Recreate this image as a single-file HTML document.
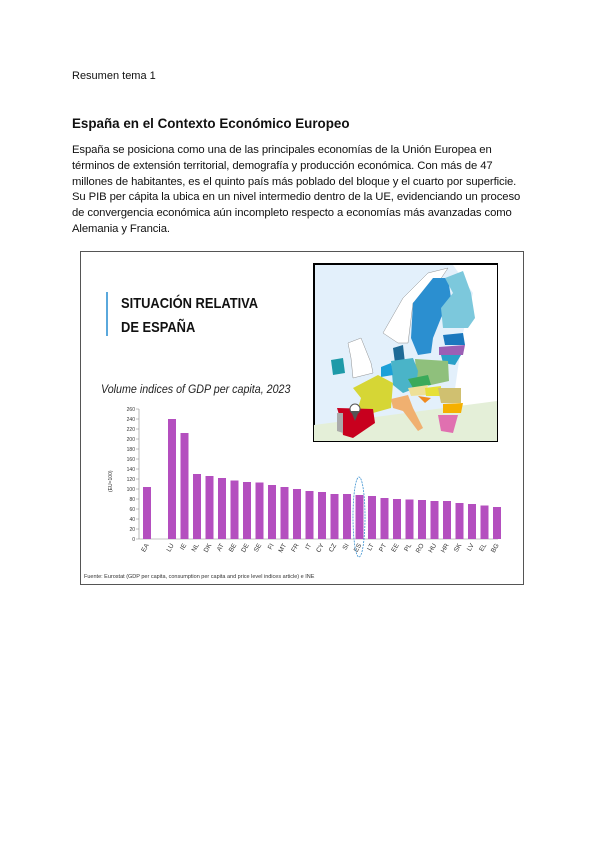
<!DOCTYPE html>
<html><head><meta charset="utf-8"><style>
body{margin:0;background:#fff;width:600px;height:848px;position:relative;overflow:hidden;font-family:"Liberation Sans",Arial,sans-serif;color:#111}
.t{position:absolute;white-space:nowrap}
.p{position:absolute;left:72px;top:143px;font-size:11.3px;line-height:15.8px;letter-spacing:-0.1px}
</style></head><body>
<div class="t" style="left:72px;top:70px;font-size:11px">Resumen tema 1</div>
<div class="t" style="left:72px;top:116px;font-size:13.4px;font-weight:bold">España en el Contexto Económico Europeo</div>
<div class="p">España se posiciona como una de las principales economías de la Unión Europea en<br>términos de extensión territorial, demografía y producción económica. Con más de 47<br>millones de habitantes, es el quinto país más poblado del bloque y el cuarto por superficie.<br>Su PIB per cápita la ubica en un nivel intermedio dentro de la UE, evidenciando un proceso<br>de convergencia económica aún incompleto respecto a economías más avanzadas como<br>Alemania y Francia.</div>

<div style="position:absolute;left:80px;top:251px;width:442px;height:332px;border:1.5px solid #555;background:#fff"></div>
<div style="position:absolute;left:106px;top:292px;width:2px;height:44px;background:#5aa8dc"></div>
<div class="t" style="left:121px;top:292px;font-size:15px;font-weight:bold;line-height:24px;transform:scaleX(0.86);transform-origin:0 0">SITUACIÓN RELATIVA<br>DE ESPAÑA</div>
<div class="t" style="left:101px;top:384px;font-size:11.5px;font-style:italic;color:#222;transform:scaleX(0.93);transform-origin:0 0">Volume indices of GDP per capita, 2023</div>

<svg style="position:absolute;left:313px;top:263px" width="185" height="179" viewBox="0 0 185 179">
<rect x="1" y="1" width="183" height="177" fill="#e3f0fb" stroke="#000" stroke-width="2"/>
<polygon points="140,2 184,2 184,150 140,140 150,70 160,30" fill="#fff"/>
<polygon points="1,162 184,138 184,178 1,178" fill="#e4efd8"/>
<polygon points="70,70 90,35 115,10 135,5 125,20 100,40 95,80 85,80" fill="#fff" stroke="#777" stroke-width=".4"/>
<polygon points="100,40 120,15 135,15 138,35 128,55 120,75 118,90 105,92 98,75" fill="#2b8fd0"/>
<polygon points="132,15 150,8 158,30 162,55 155,65 130,65 128,45 140,30" fill="#7cc8dc"/>
<polygon points="130,72 150,70 152,82 132,82" fill="#1a78be"/>
<polygon points="126,84 152,82 150,92 126,92" fill="#9b5fb5"/>
<polygon points="128,92 148,92 142,102 130,100" fill="#2aa0c8"/>
<polygon points="80,85 90,82 92,100 82,100" fill="#1e6a96"/>
<polygon points="18,97 30,95 32,110 20,112" fill="#1e9aa8"/>
<polygon points="35,80 48,75 58,100 60,110 40,115 38,95" fill="#fff" stroke="#777" stroke-width=".4"/>
<polygon points="102,96 135,98 136,118 118,122 104,118" fill="#8fc07c"/>
<polygon points="78,98 100,95 105,108 103,125 90,130 80,122" fill="#4ab4c8"/>
<polygon points="68,104 78,100 80,112 68,114" fill="#1ca0d8"/>
<polygon points="95,116 115,112 118,122 100,125" fill="#3aaa5a"/>
<polygon points="40,125 65,112 80,120 78,145 60,150 45,145 48,135" fill="#d6d635"/>
<polygon points="95,125 115,122 113,132 98,133" fill="#eee098"/>
<polygon points="112,125 128,123 128,133 113,133" fill="#e6e038"/>
<polygon points="125,125 148,125 148,140 128,140" fill="#d0c070"/>
<polygon points="130,141 150,140 148,150 130,150" fill="#f5b000"/>
<polygon points="105,133 118,135 112,140" fill="#f08a20"/>
<polygon points="78,136 95,132 100,145 110,165 105,168 90,148 80,145" fill="#f0b070"/>
<polygon points="125,152 145,152 140,170 128,168" fill="#e070b0"/>
<polygon points="24,145 60,146 62,160 40,175 30,172 28,158" fill="#c8001e"/>
<polygon points="24,150 30,150 30,170 24,168" fill="#aaa"/>
<circle cx="42" cy="146" r="5" fill="#fff" stroke="#555"/><polygon points="38,148 46,148 42,158" fill="#555"/>
</svg>

<svg style="position:absolute;left:100px;top:400px" width="420" height="170" font-family="Liberation Sans,Arial,sans-serif">
<g font-size="5" fill="#333" text-anchor="end" id="ax"></g>
<line x1="39" y1="9" x2="39" y2="139" stroke="#888" stroke-width=".6"/>
<line x1="39" y1="139" x2="398" y2="139" stroke="#888" stroke-width=".6"/>
<text x="0" y="0" font-size="5" fill="#333" transform="translate(12,92) rotate(-90)">(EU=100)</text>
<g id="bars" fill="#b44fbf"></g>
<g id="lb" font-size="6.5" fill="#333"></g>
<ellipse cx="259" cy="117" rx="6" ry="40" fill="none" stroke="#3a90d0" stroke-width=".8" stroke-dasharray="2,1"/>
</svg>
<div class="t" style="left:84px;top:574px;font-size:5.5px;color:#333">Fuente: Eurostat (GDP per capita, consumption per capita and price level indices article) e INE</div>
<script>
var ax=document.getElementById('ax'),s='';
for(var v=0;v<=260;v+=20){var y=139-v*0.5;s+='<text x="35" y="'+(y+1.8)+'">'+v+'</text><line x1="36" y1="'+y+'" x2="39" y2="'+y+'" stroke="#888" stroke-width=".5"/>';}
ax.innerHTML=s;
var d=[["EA",104],["LU",240],["IE",212],["NL",130],["DK",126],["AT",122],["BE",117],["DE",114],["SE",113],["FI",108],["MT",104],["FR",100],["IT",96],["CY",94],["CZ",90],["SI",90],["ES",88],["LT",86],["PT",82],["EE",80],["PL",79],["RO",78],["HU",76],["HR",76],["SK",72],["LV",70],["EL",67],["BG",64]];
var b='',l='';
d.forEach(function(e,i){var x=i==0?43:68+(i-1)*12.5;var h=e[1]*0.5;b+='<rect x="'+x+'" y="'+(139-h)+'" width="8" height="'+h+'"/>';l+='<text transform="translate('+(x+6)+',145) rotate(-60)" text-anchor="end">'+e[0]+'</text>';});
document.getElementById('bars').innerHTML=b;document.getElementById('lb').innerHTML=l;
</script>
</body></html>
